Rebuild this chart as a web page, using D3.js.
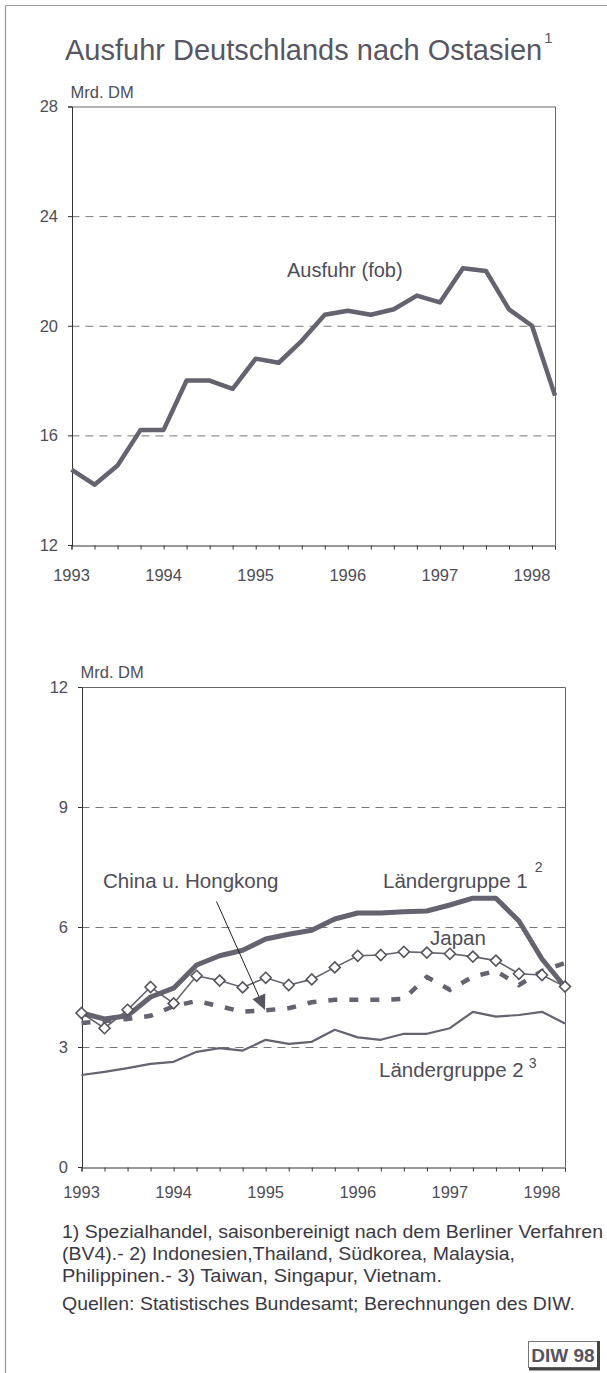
<!DOCTYPE html>
<html><head><meta charset="utf-8">
<script src="https://cdn.jsdelivr.net/npm/d3@7"></script>
<style>
html,body{margin:0;padding:0;background:#fff;}
svg{display:block;font-family:"Liberation Sans",Arial,sans-serif;}
</style></head>
<body>
<svg id="c" width="607" height="1373"></svg>
<script>
// ---- data ----
const quarters = d3.range(22).map(k => 1993 + k / 4); // 1993 Q1 ... 1998 Q2
const yearLabels = ["1993","1994","1995","1996","1997","1998"];
const topTicks = [12, 16, 20, 24, 28];
const bottomTicks = [0, 3, 6, 9, 12];

const ausfuhr = [14.75,14.2,14.9,16.2,16.2,18.0,18.0,17.7,18.8,18.65,19.45,20.4,20.55,20.4,20.6,21.1,20.85,22.1,22.0,20.6,20.0,17.45];
const laendergruppe1 = [3.85,3.7,3.78,4.25,4.47,5.05,5.28,5.42,5.7,5.82,5.92,6.2,6.35,6.35,6.38,6.4,6.55,6.72,6.72,6.15,5.2,4.5];
const japan = [3.85,3.47,3.93,4.5,4.09,4.78,4.66,4.49,4.73,4.55,4.69,4.99,5.28,5.3,5.38,5.36,5.33,5.26,5.16,4.83,4.8,4.51];
const china = [3.6,3.65,3.7,3.78,4.02,4.15,4.02,3.88,3.92,3.97,4.12,4.18,4.18,4.18,4.2,4.75,4.43,4.76,4.9,4.55,4.9,5.1];
const laendergruppe2 = [2.3,2.38,2.47,2.58,2.63,2.88,2.97,2.91,3.18,3.08,3.13,3.43,3.24,3.18,3.33,3.33,3.47,3.88,3.76,3.8,3.88,3.59];

const svg = d3.select("#c");
const TXT = "#4e4d58", LINE = "#64636f", AX = "#333";

// outer frame
svg.append("line").attr("x1",5.5).attr("y1",5.5).attr("x2",607).attr("y2",5.5).attr("stroke","#999").attr("stroke-width",1.2);
svg.append("line").attr("x1",5.5).attr("y1",5.5).attr("x2",5.5).attr("y2",1373).attr("stroke","#999").attr("stroke-width",1.2);

// title
const title = svg.append("text").attr("x",65).attr("y",60).attr("font-size",29).attr("fill","#575662");
title.append("tspan").text("Ausfuhr Deutschlands nach Ostasien");
title.append("tspan").attr("font-size",15).attr("dy",-17).attr("dx",2).text("1");

function panel(cfg){
  const x = d3.scaleLinear().domain([1993, 1998.25]).range([cfg.x0, cfg.x1]);
  const y = d3.scaleLinear().domain(cfg.ydom).range([cfg.y0, cfg.y1]);
  const g = svg.append("g");
  // grid
  g.append("g").selectAll("line").data(cfg.ticks.slice(1,-1)).join("line")
    .attr("x1",cfg.x0).attr("x2",cfg.x1).attr("y1",d=>y(d)+0.5).attr("y2",d=>y(d)+0.5)
    .attr("stroke","#777").attr("stroke-width",1).attr("stroke-dasharray","8,6");
  // frame top/right
  g.append("path").attr("d",`M${cfg.x0},${cfg.y1+0.5}H${cfg.x1+0.5}V${cfg.y0}`).attr("fill","none").attr("stroke","#666").attr("stroke-width",1);
  // x axis
  const xa = g.append("g").attr("transform",`translate(0,${cfg.y0+0.5})`)
    .call(d3.axisBottom(x).tickValues(quarters).tickSize(4).tickFormat(""));
  xa.select(".domain").attr("stroke",AX);
  xa.selectAll(".tick line").attr("stroke",AX);
  g.append("g").selectAll("text").data(yearLabels).join("text")
    .attr("x",d=>x(+d)).attr("y",cfg.y0+cfg.xlabDy).attr("text-anchor","middle")
    .attr("font-size",16.5).attr("fill",TXT).text(d=>d);
  // y axis
  const ya = g.append("g").attr("transform",`translate(${cfg.x0+0.5},0)`)
    .call(d3.axisLeft(y).tickValues(cfg.ticks).tickSize(4).tickPadding(10).tickFormat(d3.format("d")));
  ya.select(".domain").attr("stroke",AX);
  ya.selectAll(".tick line").attr("stroke",AX);
  ya.selectAll(".tick text").attr("font-size",16.5).attr("fill",TXT).attr("font-family","Liberation Sans, Arial, sans-serif");
  g.append("text").attr("x",cfg.x0-1).attr("y",cfg.y1-9).attr("font-size",16.5).attr("fill",TXT).text("Mrd. DM");
  return {x,y,g};
}

// ---- top panel ----
const T = panel({x0:71.5,x1:555,y0:545,y1:106.5,ydom:[12,28],ticks:topTicks,xlabDy:36});
const lineT = d3.line().x((d,i)=>T.x(quarters[i])).y(d=>T.y(d));
T.g.append("path").datum(ausfuhr).attr("d",lineT).attr("fill","none").attr("stroke",LINE).attr("stroke-width",4.5).attr("stroke-linejoin","round");
T.g.append("text").attr("x",287).attr("y",277).attr("font-size",20).attr("fill",TXT).text("Ausfuhr (fob)");

// ---- bottom panel ----
const B = panel({x0:81.5,x1:565,y0:1167,y1:687,ydom:[0,12],ticks:bottomTicks,xlabDy:31});
const lineB = d3.line().x((d,i)=>B.x(quarters[i])).y(d=>B.y(d));
B.g.append("path").datum(laendergruppe2).attr("d",lineB).attr("fill","none").attr("stroke",LINE).attr("stroke-width",2.2).attr("stroke-linejoin","round");
B.g.append("path").datum(china).attr("d",lineB).attr("fill","none").attr("stroke",LINE).attr("stroke-width",4.5).attr("stroke-dasharray","9,12");
B.g.append("path").datum(laendergruppe1).attr("d",lineB).attr("fill","none").attr("stroke",LINE).attr("stroke-width",5).attr("stroke-linejoin","round");
B.g.append("path").datum(japan).attr("d",lineB).attr("fill","none").attr("stroke",LINE).attr("stroke-width",1.6);
B.g.append("g").selectAll("path").data(japan).join("path")
  .attr("transform",(d,i)=>`translate(${B.x(quarters[i])},${B.y(d)})`)
  .attr("d","M0,-5.5L5.5,0L0,5.5L-5.5,0Z").attr("fill","#fff").attr("stroke","#55545f").attr("stroke-width",1.6);

// annotations
function label(x,y,t,sup,supDx,supDy){
  const e = B.g.append("text").attr("x",x).attr("y",y).attr("font-size",20.5).attr("fill",TXT);
  e.append("tspan").text(t);
  if(sup){ e.append("tspan").attr("font-size",14).attr("dx",supDx).attr("dy",supDy).text(sup); }
}
label(383,888,"Ländergruppe 1","2",7,-16);
label(430,945,"Japan");
label(103,888,"China u. Hongkong");
label(379,1077,"Ländergruppe 2","3",5,-9);
// arrow
B.g.append("line").attr("x1",216.5).attr("y1",901.5).attr("x2",260).attr("y2",999).attr("stroke","#222").attr("stroke-width",1);
{
  const tip=[265,1010], ang=Math.atan2(1010-901.5,265-216.5);
  const L=15,W=7;
  const bx=tip[0]-L*Math.cos(ang), by=tip[1]-L*Math.sin(ang);
  const px=-Math.sin(ang)*W, py=Math.cos(ang)*W;
  B.g.append("path").attr("d",`M${tip[0]},${tip[1]}L${bx+px},${by+py}L${bx-px},${by-py}Z`).attr("fill","#55545f");
}

// footnotes
const notes = ["1) Spezialhandel, saisonbereinigt nach dem Berliner Verfahren",
               "(BV4).-  2) Indonesien,Thailand, Südkorea, Malaysia,",
               "Philippinen.- 3) Taiwan, Singapur, Vietnam.",
               "Quellen: Statistisches Bundesamt; Berechnungen des DIW."];
const noteW = [541, 453, 380, 513];
const noteY = [1238, 1260, 1282, 1310];
svg.append("g").selectAll("text").data(notes).join("text")
  .attr("x",62).attr("y",(d,i)=>noteY[i]).attr("font-size",17.5).attr("fill","#3a3944")
  .attr("textLength",(d,i)=>noteW[i]).attr("lengthAdjust","spacingAndGlyphs").text(d=>d);

// DIW box
svg.append("rect").attr("x",528.5).attr("y",1341.5).attr("width",69).attr("height",26).attr("fill","#fff").attr("stroke","#777").attr("stroke-width",1);
svg.append("path").attr("d","M598.5,1341V1369H529").attr("fill","none").attr("stroke","#444").attr("stroke-width",3);
svg.append("text").attr("x",563).attr("y",1361.5).attr("text-anchor","middle").attr("font-size",19).attr("font-weight","bold").attr("fill","#55545f").text("DIW 98");
</script>
</body></html>
